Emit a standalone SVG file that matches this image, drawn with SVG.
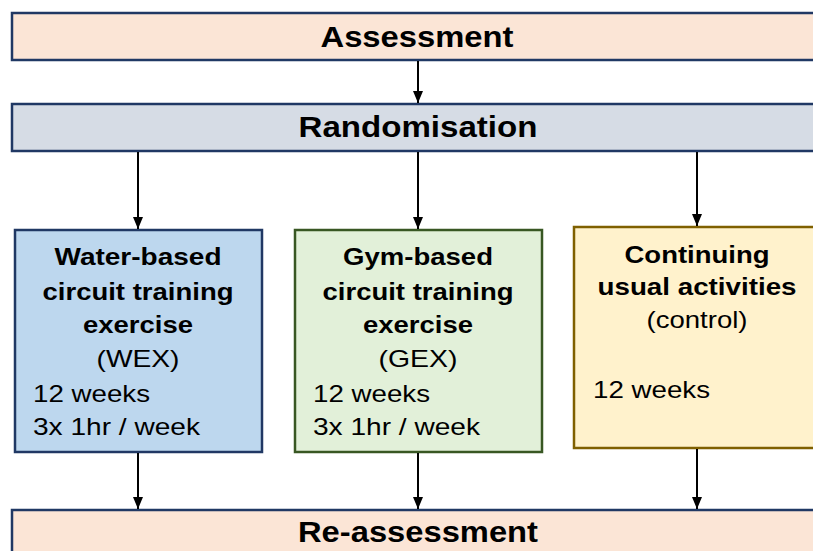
<svg xmlns="http://www.w3.org/2000/svg" width="813" height="551" viewBox="0 0 813 551">
<style>
text{font-family:"Liberation Sans",Arial,sans-serif;fill:#000;}
.h{font-size:30px;font-weight:bold;text-anchor:middle;}
.b{font-size:24px;font-weight:bold;text-anchor:middle;}
.r{font-size:24px;}
.rc{font-size:24px;text-anchor:middle;}
.box{stroke-width:2.5;}
.con{stroke:#000;stroke-width:2;fill:none;marker-end:url(#ah);}
</style>
<defs>
<marker id="ah" markerWidth="12" markerHeight="10" refX="12" refY="5" orient="auto" markerUnits="userSpaceOnUse" viewBox="0 0 12 10">
<path d="M0,0 L12,5 L0,10 Z" fill="#000"/>
</marker>
</defs>
<rect width="813" height="551" fill="#fff"/>
<g id="assessment">
<rect class="box" x="12" y="13" width="820" height="47" fill="#fbe5d6" stroke="#203864"/>
<text class="h" x="417" y="47" textLength="193" lengthAdjust="spacingAndGlyphs">Assessment</text>
</g>
<g id="randomisation">
<rect class="box" x="12" y="104" width="820" height="47" fill="#d6dce5" stroke="#203864"/>
<text class="h" x="418" y="137" textLength="239" lengthAdjust="spacingAndGlyphs">Randomisation</text>
</g>
<g id="wex">
<rect class="box" x="15" y="230" width="247" height="222" fill="#bdd7ee" stroke="#203864"/>
<text class="b" x="138" y="265" textLength="167" lengthAdjust="spacingAndGlyphs">Water-based</text>
<text class="b" x="138" y="300" textLength="191" lengthAdjust="spacingAndGlyphs">circuit training</text>
<text class="b" x="138" y="333" textLength="110" lengthAdjust="spacingAndGlyphs">exercise</text>
<text class="rc" x="138" y="367" textLength="83" lengthAdjust="spacingAndGlyphs">(WEX)</text>
<text class="r" x="33" y="402" textLength="117" lengthAdjust="spacingAndGlyphs">12 weeks</text>
<text class="r" x="33" y="435" textLength="167" lengthAdjust="spacingAndGlyphs">3x 1hr / week</text>
</g>
<g id="gex">
<rect class="box" x="295" y="230" width="247" height="222" fill="#e2f0d9" stroke="#385723"/>
<text class="b" x="418" y="265" textLength="150" lengthAdjust="spacingAndGlyphs">Gym-based</text>
<text class="b" x="418" y="300" textLength="191" lengthAdjust="spacingAndGlyphs">circuit training</text>
<text class="b" x="418" y="333" textLength="110" lengthAdjust="spacingAndGlyphs">exercise</text>
<text class="rc" x="418" y="367" textLength="79" lengthAdjust="spacingAndGlyphs">(GEX)</text>
<text class="r" x="313" y="402" textLength="117" lengthAdjust="spacingAndGlyphs">12 weeks</text>
<text class="r" x="313" y="435" textLength="167" lengthAdjust="spacingAndGlyphs">3x 1hr / week</text>
</g>
<g id="control">
<rect class="box" x="574" y="227" width="260" height="221" fill="#fff2cc" stroke="#7f6000"/>
<text class="b" x="697" y="263" textLength="145" lengthAdjust="spacingAndGlyphs">Continuing</text>
<text class="b" x="697" y="295" textLength="199" lengthAdjust="spacingAndGlyphs">usual activities</text>
<text class="rc" x="697" y="328" textLength="101" lengthAdjust="spacingAndGlyphs">(control)</text>
<text class="r" x="593" y="398" textLength="117" lengthAdjust="spacingAndGlyphs">12 weeks</text>
</g>
<g id="reassessment">
<rect class="box" x="12" y="510" width="820" height="60" fill="#fbe5d6" stroke="#203864"/>
<text class="h" x="418" y="542" textLength="240" lengthAdjust="spacingAndGlyphs">Re-assessment</text>
</g>
<g id="connectors">
<line class="con" x1="418" y1="61" x2="418" y2="103"/>
<line class="con" x1="138" y1="152" x2="138" y2="229"/>
<line class="con" x1="418" y1="152" x2="418" y2="229"/>
<line class="con" x1="697" y1="152" x2="697" y2="226"/>
<line class="con" x1="138" y1="453" x2="138" y2="509"/>
<line class="con" x1="418" y1="453" x2="418" y2="509"/>
<line class="con" x1="697" y1="449" x2="697" y2="509"/>
</g>
</svg>
